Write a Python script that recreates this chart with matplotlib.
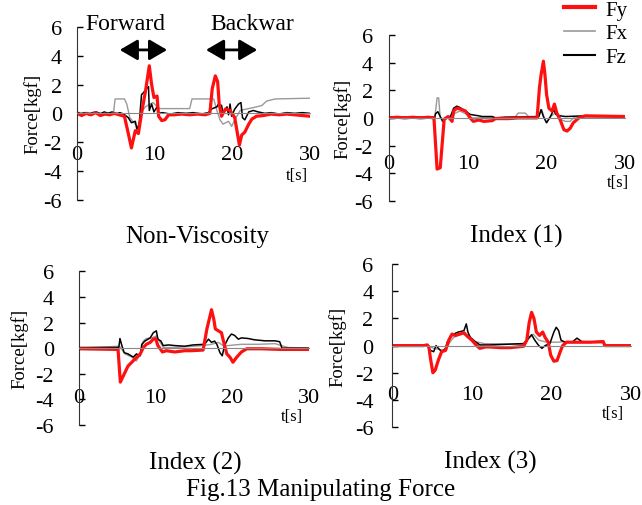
import matplotlib.pyplot as plt
from matplotlib.lines import Line2D

plt.rcParams['font.family'] = ['Liberation Serif', 'DejaVu Serif']

# time [s], force [kgf]
nv_fy = [(0, 0.0), (0.6, -0.15), (1.2, 0.0), (1.8, -0.1), (2.4, 0.05), (3.0, -0.15), (3.6, -0.05),
         (4.2, -0.1), (4.8, 0.0), (5.4, -0.1), (6.1, -0.2), (6.6, -1.4), (7.0, -2.4), (7.5, -1.2),
         (7.9, -1.4), (8.3, 0.0), (8.8, 1.5), (9.3, 3.3), (9.6, 2.0), (9.9, 1.1), (10.3, 1.2),
         (10.5, -0.2), (10.9, -0.5), (11.3, -0.45), (11.8, -0.1), (12.5, -0.1), (13.5, -0.05),
         (14.5, -0.1), (15.5, -0.05), (16.5, -0.1), (17.1, 0.0), (17.4, 1.7), (17.8, 2.6), (18.1, 2.2),
         (18.3, 0.65), (18.6, -0.2), (19.1, 0.3), (19.7, 0.2), (20.3, -0.3), (20.9, -2.2), (21.2, -1.5),
         (21.6, -1.3), (22.1, -0.75), (22.5, -0.4), (23.1, -0.2), (24, -0.15), (25, -0.05), (26, -0.1),
         (27, -0.05), (28, -0.1), (29, -0.15), (30, -0.2)]
nv_fx = [(0, 0.05), (4.7, 0.05), (4.9, 1.0), (6.1, 1.0), (6.4, 0.65), (6.8, -0.3), (7.5, -0.75),
         (7.9, -1.0), (8.3, 0.1), (8.8, 0.45), (9.4, 0.65), (9.8, 0.75), (10.3, 0.45), (10.7, 0.33),
         (14.5, 0.33), (14.8, 1.0), (17.6, 1.0), (18.0, 0.2), (18.4, -0.45), (18.8, -0.75), (19.5, -0.55),
         (19.9, -0.9), (20.3, -0.45), (21.0, 0.2), (22.1, 0.33), (23.1, 0.45), (23.8, 0.55), (24.4, 0.85),
         (25.5, 1.0), (30, 1.05)]
nv_fz = [(0, 0.1), (0.5, -0.05), (1, 0.05), (1.5, -0.1), (2, 0.05), (2.5, 0.1), (3, -0.05), (3.5, 0.1),
         (4, 0.0), (4.5, 0.1), (5, -0.05), (5.5, 0.05), (6.0, -0.05), (6.6, -0.3), (7.0, -0.65),
         (7.5, -0.55), (7.7, -1.1), (8.0, -0.75), (8.3, 1.3), (8.5, 1.4), (9.0, 1.75), (9.2, 1.85),
         (9.3, 0.2), (9.6, 0.65), (9.9, 0.1), (10.3, 0.45), (10.5, 0.0), (11, 0.05), (12, -0.05),
         (13, 0.05), (14, 0.0), (15, 0.05), (16, -0.05), (16.9, 0.05), (17.3, 0.3), (18.0, 0.45),
         (18.2, 0.65), (18.6, 0.55), (18.8, 0.0), (19.3, 0.45), (19.5, -0.1), (19.7, 0.65), (19.9, -0.2),
         (20.3, 0.3), (20.8, 0.65), (21.1, 0.75), (21.3, -0.3), (21.6, -0.45), (22.1, 0.1), (22.7, 0.2),
         (23.3, 0.1), (24.2, 0.0), (25, 0.05), (26, -0.05), (27, 0.05), (28, 0.0), (29, 0.05), (30, 0.0)]

i1_fy = [(0, 0.0), (1, 0.05), (2, 0.0), (3, 0.05), (4, 0.0), (5, 0.05), (5.7, 0.0), (6.1, -3.7),
         (6.5, -3.6), (7.0, -0.1), (7.5, 0.1), (8.0, -0.25), (8.2, 0.5), (8.6, 0.7), (9.0, 0.65),
         (9.7, 0.5), (10.3, 0.0), (10.7, -0.25), (11.4, -0.15), (12.0, -0.25), (13.1, -0.2), (13.5, -0.05),
         (15.2, -0.05), (16.4, 0.0), (18.8, 0.0), (19.1, 2.2), (19.3, 3.1), (19.6, 4.1), (19.8, 3.1),
         (20.0, 1.7), (20.3, 0.7), (20.7, 0.5), (21.0, 1.0), (21.3, 0.35), (21.7, -0.1), (22.2, -0.85),
         (22.6, -0.95), (23.0, -0.75), (23.4, -0.35), (24.1, 0.0), (24.9, 0.15), (30, 0.1)]
i1_fx = [(0, 0.0), (5.8, 0.0), (6.1, 1.45), (6.3, 1.45), (6.5, 0.0), (7.1, -0.1), (8.4, 0.35), (9.0, 0.5),
         (9.9, 0.25), (10.5, 0.0), (16.0, 0.05), (16.4, 0.35), (17.3, 0.35), (17.7, 0.1), (19.0, 0.05),
         (19.4, 0.6), (19.7, 0.0), (20.0, -0.35), (20.5, 0.1), (21.1, 0.35), (21.7, -0.1), (22.4, -0.25),
         (23.0, -0.25), (23.4, 0.0), (30, 0.0)]
i1_fz = [(0, 0.05), (5.8, 0.05), (5.9, 0.3), (6.2, 0.45), (6.5, 0.1), (6.8, -0.25), (7.1, 0.0), (7.8, 0.1),
         (8.2, 0.7), (8.6, 0.85), (9.0, 0.75), (9.7, 0.5), (10.3, 0.25), (11.4, 0.15), (11.8, 0.1),
         (13.1, 0.1), (13.5, 0.0), (14.7, 0.05), (19.0, 0.1), (19.3, 0.6), (19.6, 0.1), (20.0, -0.35),
         (20.5, 0.1), (20.9, 0.6), (21.2, 0.25), (21.7, 0.15), (22.4, 0.1), (24.9, 0.15), (30, 0.15)]

i2_fy = [(0, -0.05), (5.1, -0.1), (5.4, -2.65), (5.8, -2.15), (6.4, -1.4), (7.3, -0.85), (8.0, -0.45),
         (8.4, 0.05), (8.8, 0.3), (9.3, 0.45), (9.7, 0.7), (10.0, 0.75), (10.3, 0.2), (10.9, -0.3),
         (11.4, -0.2), (12.5, -0.3), (13.8, -0.2), (14.7, -0.2), (16.2, -0.15), (16.7, 1.5), (17.0, 2.25),
         (17.3, 3.0), (17.6, 2.25), (17.8, 1.5), (18.2, 1.35), (18.6, 1.2), (18.9, 0.45), (19.3, -0.45),
         (19.7, -0.7), (20.1, -1.1), (20.6, -0.7), (21.2, -0.3), (21.9, -0.05), (23.8, -0.05),
         (26.4, -0.1), (30, -0.1)]
i2_fx = [(0, 0.0), (5.3, 0.15), (6.0, -0.45), (6.9, -0.7), (7.5, -1.0), (8.0, -0.45), (8.4, 0.55),
         (8.8, 0.75), (9.5, 0.8), (10.1, 0.95), (10.6, 0.45), (11.0, 0.05), (12.5, 0.05), (16.2, 0.2),
         (17.3, 0.3), (18.2, 0.45), (18.8, 0.2), (19.5, 0.2), (20.3, 0.25), (21.2, 0.3), (23.4, 0.3),
         (25.6, 0.35), (26.4, 0.2), (27.3, 0.05), (30, 0.0)]
i2_fz = [(0, 0.05), (5.2, 0.05), (5.35, 0.75), (5.6, 0.2), (5.9, -0.35), (6.4, -0.45), (7.1, -0.7),
         (7.5, -0.45), (8.0, -0.6), (8.2, 0.3), (8.6, 0.55), (9.3, 0.8), (9.7, 1.2), (10.1, 1.35),
         (10.3, 0.7), (10.7, 0.55), (11.0, 0.2), (11.7, 0.25), (12.5, 0.2), (13.8, 0.15), (14.9, 0.25),
         (16.4, 0.3), (16.9, 0.7), (17.3, 0.45), (17.7, 0.55), (18.0, 0.3), (18.4, -0.35), (18.7, -0.6),
         (19.0, 0.2), (19.5, 0.8), (19.9, 1.1), (20.3, 1.0), (20.8, 0.7), (21.2, 0.8), (22.1, 0.75),
         (22.9, 0.65), (24.3, 0.57), (25.6, 0.57), (26.2, 0.5), (26.5, 0.0), (30, 0.0)]

i3_fy = [(0, 0.0), (3.9, 0.0), (4.4, 0.05), (4.6, -0.1), (4.8, -0.95), (5.1, -2.0), (5.4, -1.8),
         (5.8, -1.05), (6.2, -0.45), (6.7, -0.35), (7.1, 0.4), (7.5, 0.85), (7.9, 0.75), (8.5, 0.85),
         (9.0, 0.95), (9.4, 0.7), (10.0, 0.4), (10.6, 0.0), (11.0, -0.2), (11.7, -0.1), (12.3, -0.1),
         (13.6, -0.15), (14.8, -0.15), (16.5, -0.05), (16.9, 0.4), (17.2, 1.7), (17.5, 2.45), (17.8, 2.0),
         (18.1, 1.0), (18.5, 0.75), (18.9, 1.0), (19.2, 0.6), (19.6, 0.25), (19.9, -0.7), (20.3, -1.15),
         (20.7, -1.1), (21.1, -0.45), (21.4, 0.0), (21.9, 0.25), (23.2, 0.25), (24.9, 0.25), (26.5, 0.3),
         (26.7, 0.0), (30, 0.0)]
i3_fx = [(0, 0.0), (4.5, 0.0), (5.2, -0.2), (6.5, -0.35), (7.7, 0.6), (8.7, 0.85), (9.6, 0.75),
         (10.4, 0.3), (11.5, 0.15), (16.5, 0.1), (17.3, 0.6), (17.7, 0.85), (18.4, 0.4), (19.4, 0.25),
         (20.7, 0.25), (21.9, 0.3), (24.9, 0.25), (26.5, 0.2), (26.9, 0.0), (30, 0.0)]
i3_fz = [(0, 0.0), (4.4, 0.0), (4.8, -0.35), (5.2, -0.45), (5.5, 0.0), (5.8, -0.2), (6.2, -0.45),
         (6.7, -0.2), (6.9, 0.25), (7.3, 0.6), (7.7, 0.85), (8.3, 1.0), (9.0, 1.1), (9.3, 1.6), (9.5, 1.0),
         (9.8, 0.6), (10.4, 0.3), (11.0, 0.05), (12.3, 0.05), (16.5, 0.15), (16.9, 0.4), (17.5, 0.8),
         (17.9, 0.4), (18.4, 0.0), (18.8, -0.2), (19.2, 0.0), (19.8, 0.15), (20.3, 1.0), (20.6, 1.35),
         (20.9, 1.1), (21.2, 0.4), (21.7, 0.25), (22.6, 0.25), (23.2, 0.55), (23.8, 0.3), (24.9, 0.25),
         (26.5, 0.3), (26.7, 0.0), (30, 0.0)]

titles = ['Non-Viscosity', 'Index (1)', 'Index (2)', 'Index (3)']
y_ticks = [-6, -4, -2, 0, 2, 4, 6]
x_ticks = [0, 10, 20, 30]
forward_span = (5.5, 11.6)
backward_span = (16.6, 23.2)

# layout: axes rect, x-label pad, y-label pad (pt), t[s] pos, ylabel x, title pos
rects = [[0.120, 0.603, 0.363, 0.342], [0.606, 0.601, 0.368, 0.328],
         [0.123, 0.158, 0.358, 0.304], [0.611, 0.154, 0.372, 0.322]]
xpads = [22.5, 26, 29, 28.5]
ypads = [11, 11.5, 18, 13.5]
tpos = [(28.3, -4.3), (29.1, -4.6), (27.8, -5.3), (27.7, -5.0)]
ylab_x = [-0.19, -0.195, -0.26, -0.23]
title_pos = [(0.307, 0.532), (0.805, 0.532), (0.304, 0.085), (0.763, 0.087)]

panels = [(nv_fy, nv_fx, nv_fz), (i1_fy, i1_fx, i1_fz),
          (i2_fy, i2_fx, i2_fz), (i3_fy, i3_fx, i3_fz)]

fig = plt.figure(figsize=(6.42, 5.06), dpi=100)

for k, (fy, fx, fz) in enumerate(panels):
    ax = fig.add_axes(rects[k])
    for series, col, lw in [(fx, '#999999', 1.0), (fz, 'black', 1.1), (fy, '#ff1010', 2.3)]:
        t = [p[0] for p in series]
        v = [p[1] for p in series]
        ax.plot(t, v, color=col, lw=lw)
    ax.set_xlim(0, 30)
    ax.set_ylim(-6, 6)
    for s in ['top', 'right']:
        ax.spines[s].set_visible(False)
    ax.spines['bottom'].set_position(('data', 0))
    ax.spines['bottom'].set_color('#888888')
    ax.spines['left'].set_color('#333333')
    ax.set_yticks(y_ticks)
    ax.set_yticklabels([str(y) for y in y_ticks])
    ax.set_xticks(x_ticks)
    ax.set_xticklabels([str(x) for x in x_ticks])
    ax.set_xticks([30], minor=True)
    ax.tick_params(axis='y', direction='in', length=4, width=1, labelsize=16, pad=ypads[k])
    ax.tick_params(axis='x', which='major', length=0, labelsize=16, pad=xpads[k])
    ax.tick_params(axis='x', which='minor', direction='in', length=6, width=1, color='#333333')
    ax.text(tpos[k][0], tpos[k][1], 't[s]', fontsize=12, ha='center', va='center')
    ax.text(ylab_x[k], 0.5, 'Force[kgf]', fontsize=13.5, rotation=90, ha='center', va='center',
            transform=ax.transAxes)
    fig.text(title_pos[k][0], title_pos[k][1], titles[k], fontsize=18, ha='center', va='center')
    if k == 0:
        ax0 = ax

# phase markers on the first panel
ax0.text(sum(forward_span) / 2 - 2.35, 6.25, 'Forward', fontsize=17, ha='center', va='center')
ax0.text(sum(backward_span) / 2 + 2.6, 6.25, 'Backwar', fontsize=17, ha='center', va='center')
for span in [forward_span, backward_span]:
    ax0.annotate('', xy=(span[1], 4.4), xytext=(span[0], 4.4),
                 arrowprops=dict(arrowstyle='<|-|>,head_length=0.6,head_width=0.35',
                                 color='black', lw=2, mutation_scale=18, shrinkA=0, shrinkB=0))

handles = [Line2D([], [], color='#ff1010', lw=3), Line2D([], [], color='#999999', lw=1.2),
           Line2D([], [], color='black', lw=1.5)]
fig.legend(handles, ['Fy', 'Fx', 'Fz'], loc='upper right', bbox_to_anchor=(0.978, 0.998),
           frameon=False, fontsize=15, handlelength=1.5, handletextpad=0.5, labelspacing=0.2,
           borderpad=0, borderaxespad=0)

fig.text(0.5, 0.032, 'Fig.13 Manipulating Force', fontsize=18, ha='center', va='center')

fig.savefig('out.png', dpi=100)
